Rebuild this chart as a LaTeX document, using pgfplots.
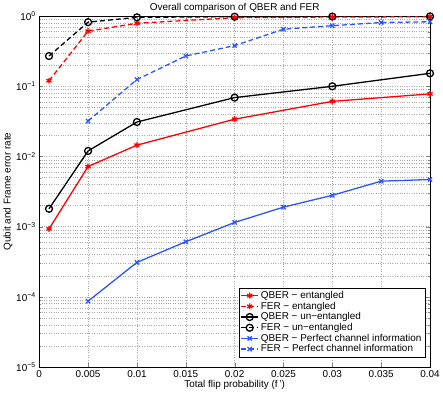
\documentclass[border=0pt]{standalone}
\usepackage{pgfplots}
\pgfplotsset{compat=1.18}
\usepackage{fontspec}
\setmainfont{Liberation Sans}
\definecolor{mblue}{RGB}{45,85,255}
\definecolor{gridgray}{RGB}{170,170,170}

\begin{document}
\begin{tikzpicture}[font=\fontsize{10}{11}\selectfont]
  \begin{axis}[
      scale only axis,
      width=393pt, height=353pt,
      ymode=log,
      xmin=0, xmax=0.04, ymin=1e-5, ymax=1,
      scaled x ticks=false,
      xtick={0,0.005,...,0.04},
      xticklabels={0,0.005,0.01,0.015,0.02,0.025,0.03,0.035,0.04},
      ytick={1e-5,1e-4,1e-3,1e-2,1e-1,1},
      yticklabels={10\textsuperscript{−5},10\textsuperscript{−4},10\textsuperscript{−3},10\textsuperscript{−2},10\textsuperscript{−1},10\textsuperscript{0}},
      tick align=inside,
      major tick length=4pt, minor tick length=2pt,
      xmajorgrids, ymajorgrids, yminorgrids,
      major grid style={gridgray, dotted},
      minor grid style={gridgray, dotted},
      title={Overall comparison of QBER and FER},
      title style={yshift=-6pt},
      xlabel={Total flip probability (f\,’)},
      ylabel={Qubit and Frame error rate},
      xlabel style={yshift=4pt},
      ylabel style={yshift=-3pt},
      legend cell align=left,
      legend style={at={(1,0)}, anchor=south east, xshift=-5pt, yshift=10pt,
        draw=black, row sep=-2pt, inner sep=1.5pt},
      every axis plot/.append style={line width=1.3pt},
      dashpat/.style={dash pattern=on 5pt off 3pt},
    ]

    % QBER entangled
    \addplot[red, mark=asterisk, mark size=3pt, mark options={solid}]
      coordinates {(0.001,0.00093) (0.005,0.0072) (0.01,0.0145) (0.02,0.034) (0.03,0.061) (0.04,0.078)};
    % FER entangled
    \addplot[red, dashpat, mark=asterisk, mark size=3pt, mark options={solid}]
      coordinates {(0.001,0.12) (0.005,0.61) (0.01,0.79) (0.02,0.95) (0.03,0.97) (0.04,0.98)};
    % QBER un-entangled
    \addplot[black, mark=o, mark size=3.5pt, mark options={solid}]
      coordinates {(0.001,0.0018) (0.005,0.012) (0.01,0.031) (0.02,0.069) (0.03,0.1) (0.04,0.153)};
    % FER un-entangled
    \addplot[black, dashpat, mark=o, mark size=3.5pt, mark options={solid}]
      coordinates {(0.001,0.27) (0.005,0.82) (0.01,0.96) (0.02,0.98) (0.03,0.985) (0.04,0.99)};
    % QBER perfect channel information
    \addplot[mblue, mark=x, mark size=3pt, mark options={solid}]
      coordinates {(0.005,8.7e-5) (0.01,3.1e-4) (0.015,6.1e-4) (0.02,1.15e-3) (0.025,1.9e-3) (0.03,2.8e-3) (0.035,4.45e-3) (0.04,4.7e-3)};
    % FER perfect channel information
    \addplot[mblue, dashpat, mark=x, mark size=3pt, mark options={solid}]
      coordinates {(0.005,0.032) (0.01,0.125) (0.015,0.27) (0.02,0.38) (0.025,0.65) (0.03,0.73) (0.035,0.81) (0.04,0.83)};

    \legend{QBER − entangled, FER − entangled, QBER − un−entangled, FER − un−entangled, QBER − Perfect channel information, FER − Perfect channel information}
  \end{axis}
\end{tikzpicture}
\end{document}
